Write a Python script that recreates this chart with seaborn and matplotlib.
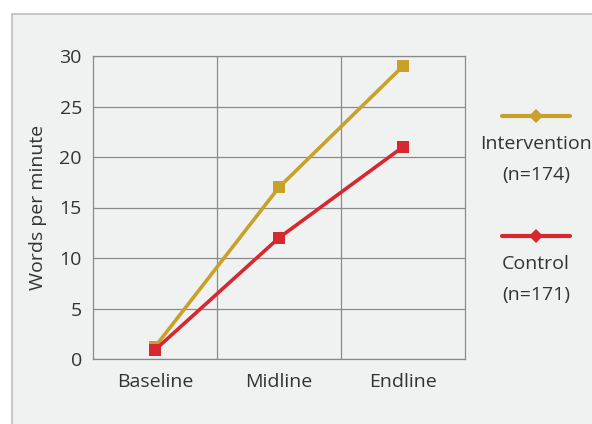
import matplotlib
matplotlib.use("Agg")
import matplotlib.pyplot as plt
import seaborn as sns
import pandas as pd
from matplotlib.patches import Rectangle
from matplotlib.lines import Line2D

categories = ["Baseline", "Midline", "Endline"]
intervention = [1.2, 17, 29]
control = [0.9, 12, 21]
series_names = ["Intervention", "Control"]
legend_labels = ["Intervention\n(n=174)", "Control\n(n=171)"]
colors = ["#c9a02a", "#d7282f"]

df = pd.DataFrame({
    "x": list(range(len(categories))) * 2,
    "value": intervention + control,
    "group": [series_names[0]] * 3 + [series_names[1]] * 3,
})

sns.set_theme(style="white")
plt.rcParams["font.family"] = ["Open Sans", "DejaVu Sans"]

bg = "#f0f1f1"
fig = plt.figure(figsize=(5.92, 4.24), dpi=100)
fig.patch.set_facecolor("white")
fig.patches.append(Rectangle((12 / 592, -0.1), 1.0, (424 - 14) / 424 + 0.1,
                             transform=fig.transFigure, facecolor=bg,
                             edgecolor="#bdbdc0", linewidth=1.2, zorder=-10))

ax = fig.add_axes([93 / 592, (424 - 359) / 424, (465 - 93) / 592, (359 - 56) / 424])
ax.set_facecolor(bg)

sns.lineplot(data=df, x="x", y="value", hue="group", palette=colors,
             hue_order=series_names, marker="s", markersize=9,
             markeredgewidth=0, linewidth=2.6, ax=ax, legend=False, zorder=3)

ax.set_xlim(-0.5, 2.5)
ax.set_ylim(0, 30)
ax.set_xticks(range(len(categories)))
ax.set_xticklabels(categories)
ax.set_xticks([0.5, 1.5], minor=True)
ax.set_yticks(range(0, 31, 5))
ax.grid(False)
ax.grid(True, which="minor", axis="x", color="#8a8a8a", linewidth=0.9)
ax.grid(True, which="major", axis="y", color="#8a8a8a", linewidth=0.9)
ax.set_axisbelow(True)
ax.tick_params(axis="both", which="both", length=0, labelsize=14, colors="#333333")
ax.tick_params(axis="x", pad=10)
ax.tick_params(axis="y", pad=8)
for s in ax.spines.values():
    s.set_color("#8a8a8a")
    s.set_linewidth(0.9)
ax.set_xlabel("")
ax.set_ylabel("Words per minute", fontsize=14, color="#333333", labelpad=9)

# legend drawn at figure level
leg_y = [(424 - 116) / 424, (424 - 236) / 424]
for i, (lab, col) in enumerate(zip(legend_labels, colors)):
    y = leg_y[i]
    fig.add_artist(Line2D([502 / 592, 570 / 592], [y, y], transform=fig.transFigure,
                          color=col, linewidth=3))
    fig.add_artist(Line2D([536 / 592], [y], transform=fig.transFigure, color=col,
                          marker="D", markersize=7, markeredgewidth=0, linestyle="none"))
    fig.text(536 / 592, y - 19 / 424, lab, ha="center", va="top", fontsize=14,
             color="#333333", linespacing=1.95)

fig.savefig("out.png", dpi=100, facecolor=fig.get_facecolor())
